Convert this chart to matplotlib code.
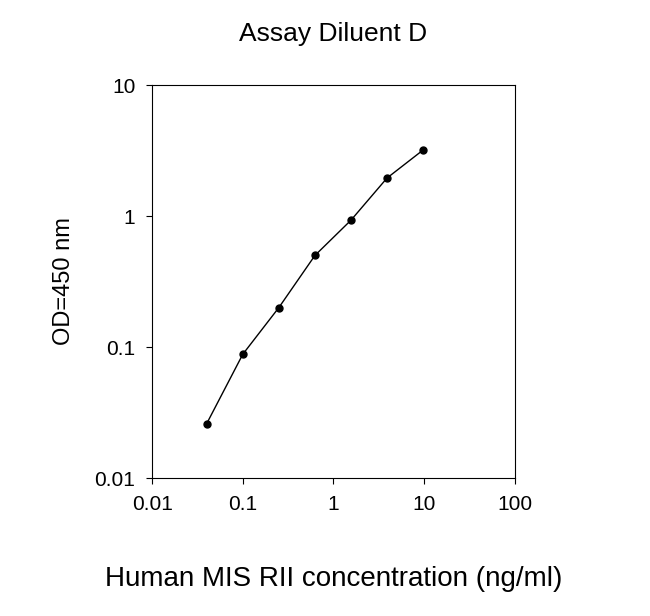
import matplotlib
matplotlib.use("Agg")
import matplotlib.pyplot as plt

plt.rcParams["font.family"] = ["Liberation Sans", "DejaVu Sans"]

conc = [0.04, 0.1, 0.25, 0.625, 1.5625, 3.9, 9.8]
od = [0.026, 0.088, 0.2, 0.5, 0.93, 1.95, 3.2]

fig = plt.figure(figsize=(6.5, 6.16), dpi=100)
ax = fig.add_axes([0.234, 0.224, 0.558, 0.638])
ax.plot(conc, od, color="black", marker="o", markersize=5, linewidth=1)
ax.set_xscale("log")
ax.set_yscale("log")
ax.set_xlim(0.01, 100)
ax.set_ylim(0.01, 10)
ax.set_xticks([0.01, 0.1, 1, 10, 100])
ax.set_xticklabels(["0.01", "0.1", "1", "10", "100"])
ax.set_yticks([0.01, 0.1, 1, 10])
ax.set_yticklabels(["0.01", "0.1", "1", "10"])
ax.minorticks_off()
ax.tick_params(labelsize=15, direction="out", length=4, pad=8)
ax.set_title("Assay Diluent D", fontsize=19, pad=32)
ax.set_ylabel("OD=450 nm", fontsize=17, labelpad=14)
ax.set_xlabel("Human MIS RII concentration (ng/ml)", fontsize=20, labelpad=38)
fig.savefig("out.png", dpi=100)
